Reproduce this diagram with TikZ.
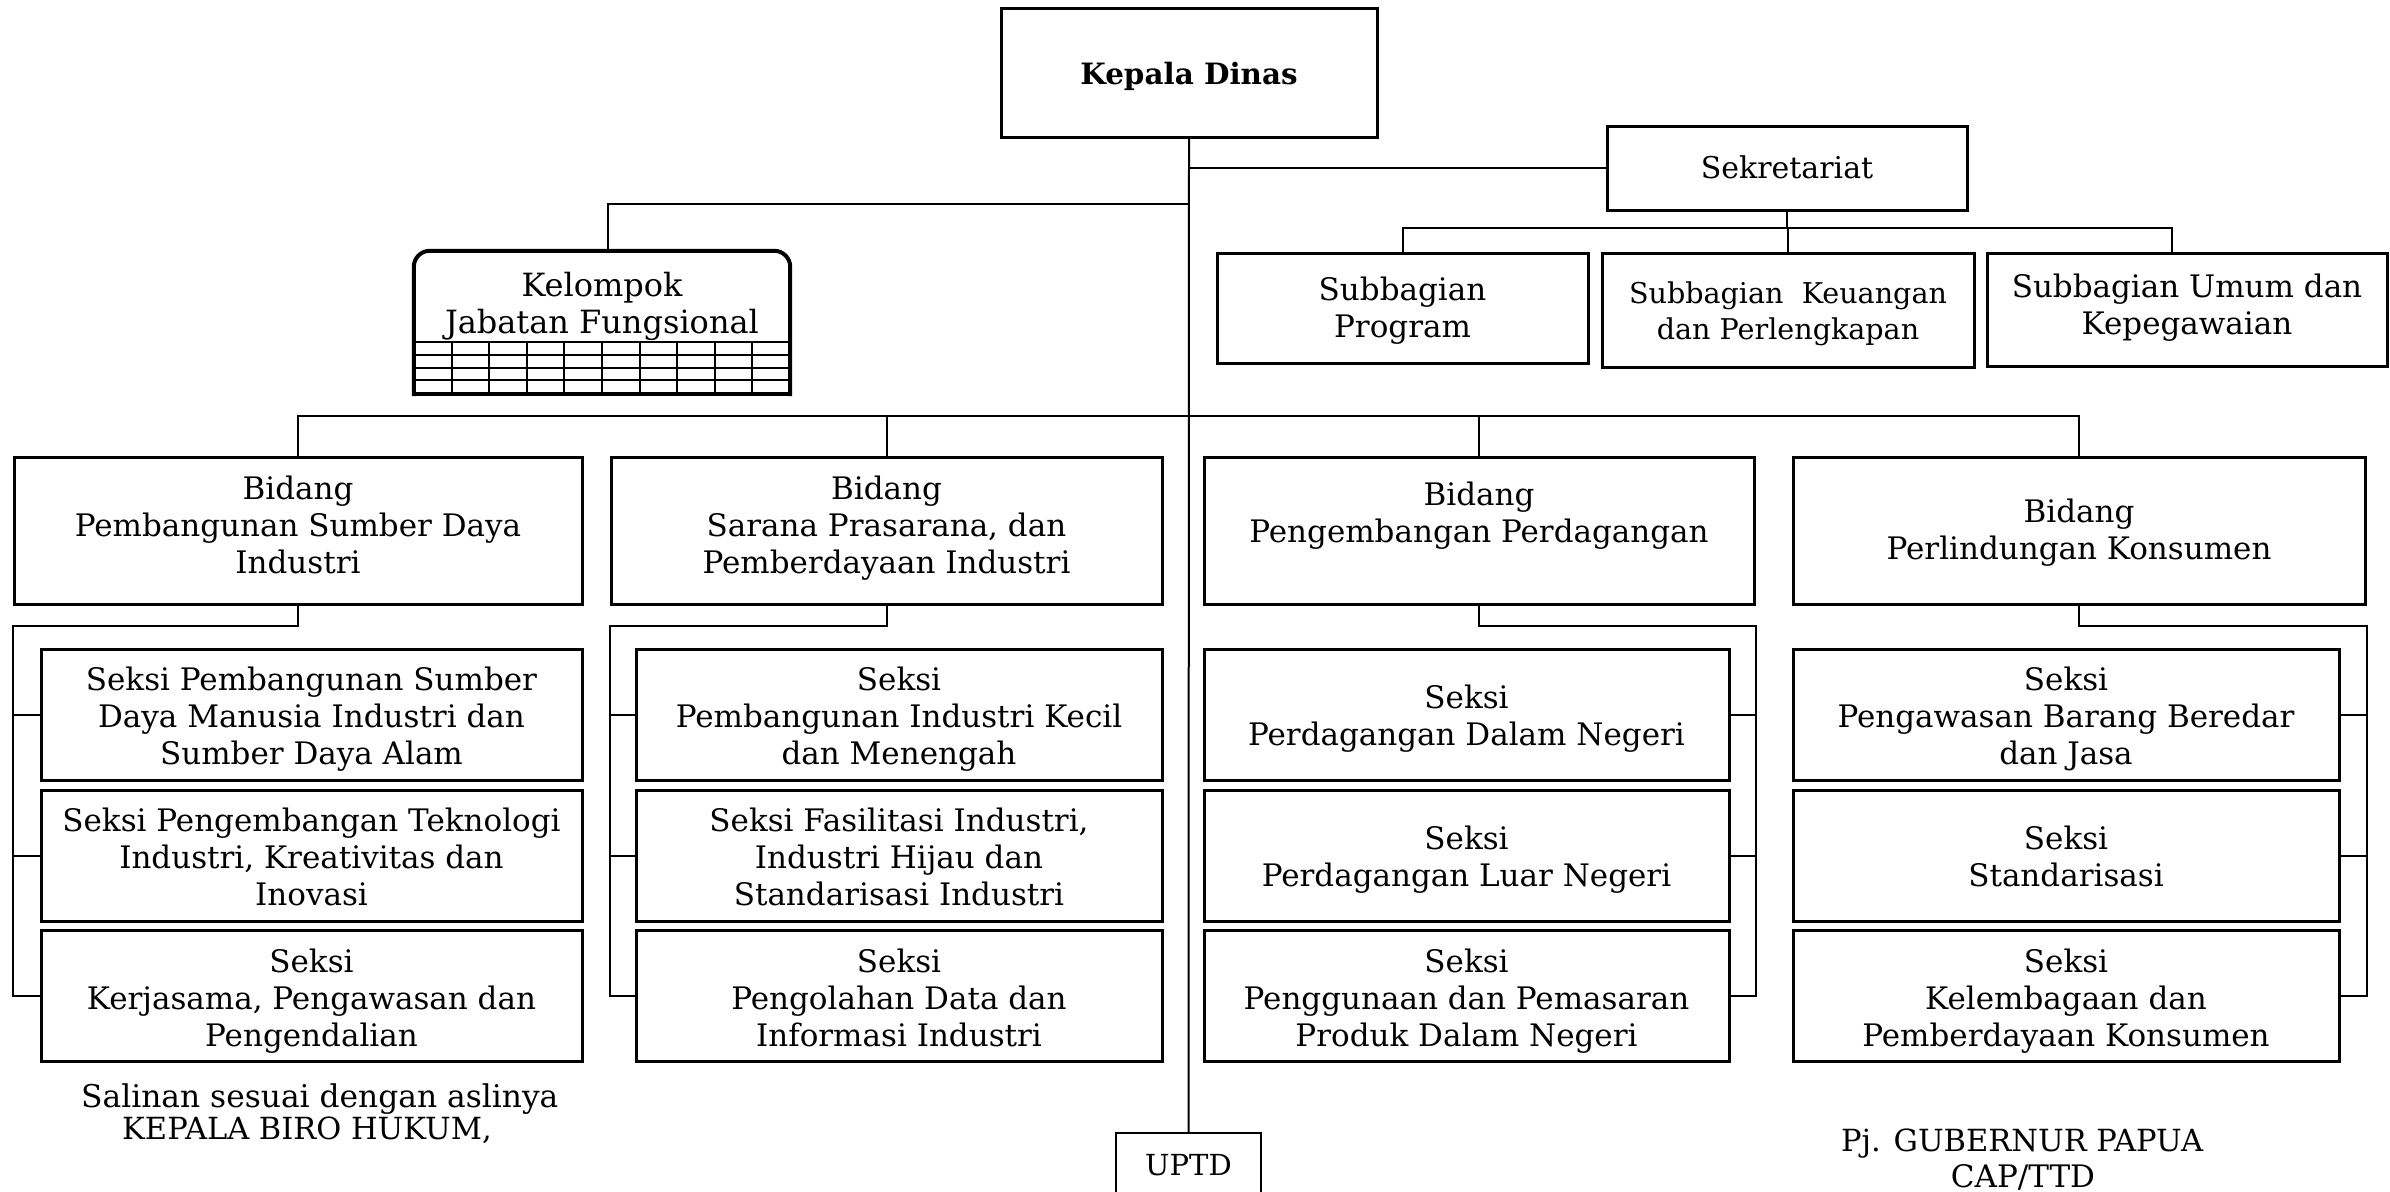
\documentclass[tikz,border=0pt]{standalone}
\usepackage{fontspec}
\setmainfont{DejaVu Serif}
\newcommand\txtdown[1]{\rule{0pt}{\dimexpr 0.76em+#1pt*2\relax}}
\begin{document}
\begin{tikzpicture}[x=1pt,y=-1pt,
  txt/.style={font=\fontsize{31}{37}\selectfont},
  box/.style={draw, line width=3pt, align=center, inner sep=4pt, txt,
    execute at end node=\strut},
  sbox/.style={box, font=\fontsize{28.6}{36}\selectfont},
  bid/.style={box, minimum width=#1, minimum height=147},
  sek/.style={box, minimum width=#1, minimum height=131},
  conn/.style={line width=2pt},
  kline/.style={line width=4pt, line cap=rect},
  grid/.style={line width=2pt},
  plain/.style={inner sep=0pt, font=\fontsize{31.3}{37}\selectfont}
]
\useasboundingbox (0,0) rectangle (2390,1191);

% top level
\node[box, minimum width=376, minimum height=129, font=\fontsize{29.4}{35}\selectfont\bfseries] (kd) at (1189,72.5) {\txtdown{5.6}Kepala Dinas};
\node[box, minimum width=360, minimum height=84, font=\fontsize{30}{37}\selectfont] (sek) at (1787,168) {\txtdown{4.5}Sekretariat};
\node[box, minimum width=371, minimum height=110] (sp) at (1402.5,308) {\txtdown{4.6}Subbagian\\Program};
\node[sbox, minimum width=372, minimum height=114] (sk) at (1788,310) {\txtdown{6}Subbagian~ Keuangan\\dan Perlengkapan};
\node[box, minimum width=400, minimum height=113] (su) at (2187,309.5) {Subbagian Umum dan\\Kepegawaian};

% Kelompok Jabatan Fungsional
\node[align=center, inner sep=0pt, minimum width=376, minimum height=143, font=\fontsize{32}{37}\selectfont,
  execute at end node=\strut] (kjf) at (602,322.5) {\txtdown{4.6}Kelompok\\Jabatan Fungsional\\};
\draw[kline, rounded corners=16pt] (kjf.south west) -- (kjf.north west) -- (kjf.north east) -- (kjf.south east);
\draw[kline] (kjf.south west) -- (kjf.south east);
\foreach \yy in {342,355,368,380} \draw[grid] (414,\yy) -- (790,\yy);
\foreach \k in {1,...,9} \draw[grid] (414+37.6*\k,342) -- (414+37.6*\k,394);

% Bidang
\node[bid=568] (b1) at (298,530.5) {Bidang\\Pembangunan Sumber Daya\\Industri};
\node[bid=551] (b2) at (886.5,530.5) {Bidang\\Sarana Prasarana, dan\\Pemberdayaan Industri};
\node[bid=550] (b3) at (1479,530.5) {\txtdown{5.3}Bidang\\Pengembangan Perdagangan\\};
\node[bid=572] (b4) at (2079,530.5) {\txtdown{4.6}Bidang\\Perlindungan Konsumen};

% Seksi column 1
\node[sek=541] (s11) at (311.5,714.5) {\txtdown{7}Seksi Pembangunan Sumber\\Daya Manusia Industri dan\\Sumber Daya Alam};
\node[sek=541] (s12) at (311.5,855.5) {\txtdown{7}Seksi Pengembangan Teknologi\\Industri, Kreativitas dan\\Inovasi};
\node[sek=541] (s13) at (311.5,996) {\txtdown{7}Seksi\\Kerjasama, Pengawasan dan\\Pengendalian};
% column 2
\node[sek=526] (s21) at (899,714.5) {\txtdown{7}Seksi\\Pembangunan Industri Kecil\\dan Menengah};
\node[sek=526] (s22) at (899,855.5) {\txtdown{7}Seksi Fasilitasi Industri,\\Industri Hijau dan\\Standarisasi Industri};
\node[sek=526] (s23) at (899,996) {\txtdown{7}Seksi\\Pengolahan Data dan\\Informasi Industri};
% column 3
\node[sek=525] (s31) at (1466.5,714.5) {\txtdown{6}Seksi\\Perdagangan Dalam Negeri};
\node[sek=525] (s32) at (1466.5,855.5) {\txtdown{6}Seksi\\Perdagangan Luar Negeri};
\node[sek=525] (s33) at (1466.5,996) {\txtdown{7.5}Seksi\\Penggunaan dan Pemasaran\\Produk Dalam Negeri};
% column 4
\node[sek=546] (s41) at (2066,714.5) {\txtdown{7}Seksi\\Pengawasan Barang Beredar\\dan Jasa};
\node[sek=546] (s42) at (2066,855.5) {\txtdown{6}Seksi\\Standarisasi};
\node[sek=546] (s43) at (2066,996) {\txtdown{7.5}Seksi\\Kelembagaan dan\\Pemberdayaan Konsumen};

% UPTD (open at the bottom edge of the page)
\node[inner sep=0pt, minimum width=145, minimum height=64, font=\fontsize{29}{34}\selectfont] (uptd) at (1188.5,1165) {UPTD};
\draw[line width=2.5pt] (uptd.south west) -- (uptd.north west) -- (uptd.north east) -- (uptd.south east);

% signature texts
\node[plain, anchor=base west] (sal) at (81,1107) {Salinan sesuai dengan aslinya};
\node[plain, anchor=base west, font=\fontsize{30.5}{37}\selectfont] (kbh) at (122,1139) {KEPALA BIRO HUKUM,};
\node[plain, anchor=base, font=\fontsize{30.5}{37}\selectfont] (pj) at (2022,1151) {Pj. GUBERNUR PAPUA};
\node[plain, anchor=base, font=\fontsize{31}{37}\selectfont] (cap) at (2023,1187) {CAP/TTD};

% connectors
\coordinate (kj) at (608,204);
\coordinate (sbus) at (0,228);
\coordinate (sud) at (2172,228);
\coordinate (bbus) at (0,416);
\coordinate (cbus) at (0,626);

\draw[conn] (kd.south) -- (uptd.north);
\draw[conn] (sek.west) -- (sek.west -| kd.south);
\draw[conn] (kj -| kd.south) -- (kj) -- (kj |- kjf.north);
\draw[conn] (sek.south) -- (sek.south |- sbus);
\draw[conn] (sp.north) -- (sp.north |- sbus) -- (sud) -- (sud |- su.north);
\draw[conn] (sk.north) -- (sk.north |- sbus);

\draw[conn] (b1.north) -- (b1.north |- bbus) -- (b4.north |- bbus) -- (b4.north);
\draw[conn] (b2.north) -- (b2.north |- bbus);
\draw[conn] (b3.north) -- (b3.north |- bbus);

% column buses
\draw[conn] (b1.south) -- (b1.south |- cbus) -- (b1.south west |- cbus) -- (b1.south west |- s13.west) -- (s13.west);
\draw[conn] (s11.west) -- (s11.west -| b1.south west);
\draw[conn] (s12.west) -- (s12.west -| b1.south west);

\draw[conn] (b2.south) -- (b2.south |- cbus) -- (b2.south west |- cbus) -- (b2.south west |- s23.west) -- (s23.west);
\draw[conn] (s21.west) -- (s21.west -| b2.south west);
\draw[conn] (s22.west) -- (s22.west -| b2.south west);

\draw[conn] (b3.south) -- (b3.south |- cbus) -- (b3.south east |- cbus) -- (b3.south east |- s33.east) -- (s33.east);
\draw[conn] (s31.east) -- (s31.east -| b3.south east);
\draw[conn] (s32.east) -- (s32.east -| b3.south east);

\draw[conn] (b4.south) -- (b4.south |- cbus) -- (b4.south east |- cbus) -- (b4.south east |- s43.east) -- (s43.east);
\draw[conn] (s41.east) -- (s41.east -| b4.south east);
\draw[conn] (s42.east) -- (s42.east -| b4.south east);
\end{tikzpicture}
\end{document}
